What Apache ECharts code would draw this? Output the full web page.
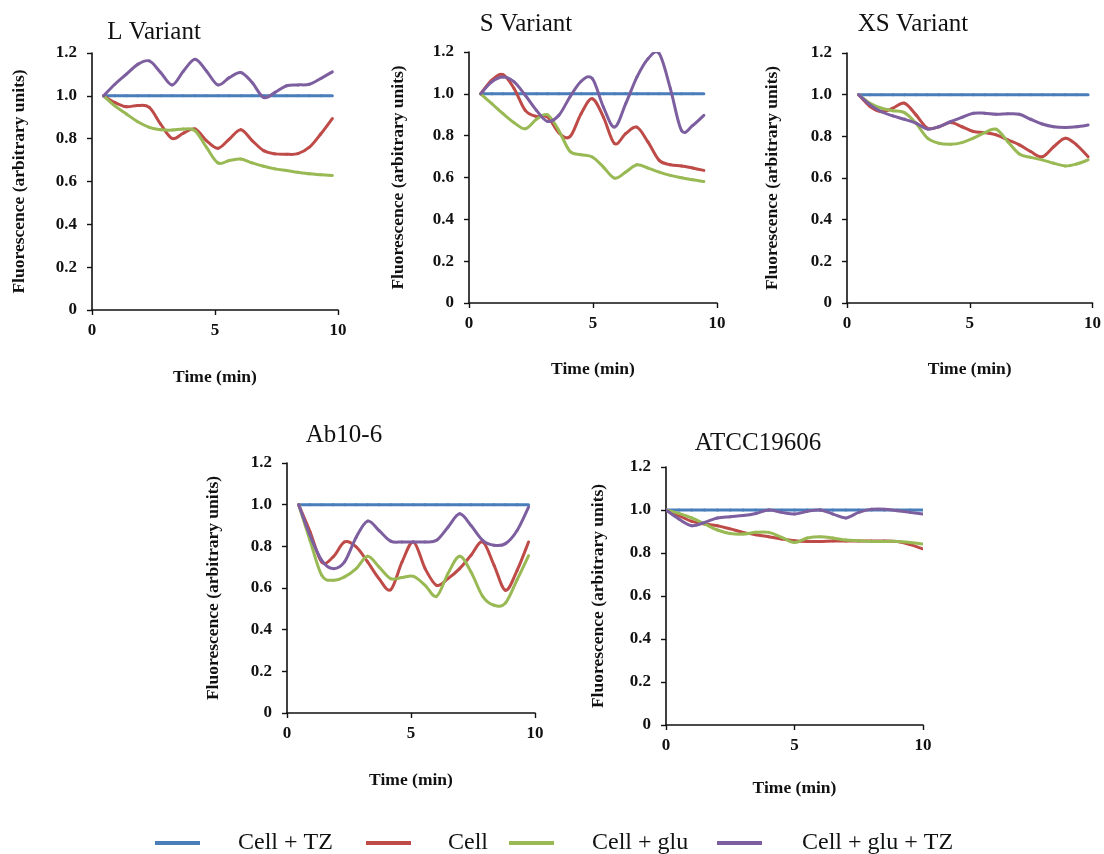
<!DOCTYPE html>
<html>
<head>
<meta charset="utf-8">
<script src="https://cdn.jsdelivr.net/npm/echarts@6/dist/echarts.min.js"></script>
<style>
  html, body { margin: 0; padding: 0; background: #fff; }
  #chart { width: 1104px; height: 854px; }
</style>
</head>
<body>
<div id="chart"></div>
<script>
// Series names (legend)
const seriesNames = ['Cell + TZ', 'Cell', 'Cell + glu', 'Cell + glu + TZ'];

// L Variant
const lTime  = [0.47, 0.93, 1.40, 1.86, 2.33, 2.79, 3.26, 3.72, 4.19, 4.65, 5.12, 5.58, 6.05, 6.51, 6.98, 7.44, 7.91, 8.37, 8.84, 9.30, 9.77];
const lTz    = [1, 1, 1, 1, 1, 1, 1, 1, 1, 1, 1, 1, 1, 1, 1, 1, 1, 1, 1, 1, 1];
const lCell  = [1.0, 0.969, 0.949, 0.955, 0.946, 0.868, 0.801, 0.826, 0.845, 0.791, 0.755, 0.798, 0.842, 0.791, 0.744, 0.729, 0.727, 0.730, 0.760, 0.822, 0.894];
const lGlu   = [1.0, 0.953, 0.915, 0.879, 0.853, 0.842, 0.840, 0.845, 0.837, 0.760, 0.687, 0.698, 0.705, 0.687, 0.671, 0.659, 0.651, 0.643, 0.636, 0.632, 0.628];
const lGluTz = [1.0, 1.054, 1.101, 1.147, 1.163, 1.109, 1.051, 1.116, 1.171, 1.116, 1.051, 1.085, 1.109, 1.062, 0.992, 1.016, 1.047, 1.051, 1.054, 1.081, 1.112];

// S Variant
const sTime  = [0.47, 0.92, 1.37, 1.82, 2.27, 2.72, 3.17, 3.62, 4.07, 4.52, 4.97, 5.42, 5.87, 6.32, 6.77, 7.22, 7.67, 8.12, 8.57, 9.02, 9.47];
const sTz    = [1, 1, 1, 1, 1, 1, 1, 1, 1, 1, 1, 1, 1, 1, 1, 1, 1, 1, 1, 1, 1];
const sCell  = [1.0, 1.065, 1.092, 1.025, 0.921, 0.892, 0.889, 0.814, 0.795, 0.905, 0.977, 0.889, 0.762, 0.810, 0.841, 0.769, 0.682, 0.661, 0.655, 0.645, 0.634];
const sGlu   = [1.0, 0.953, 0.905, 0.862, 0.833, 0.878, 0.900, 0.825, 0.725, 0.709, 0.698, 0.650, 0.597, 0.626, 0.661, 0.645, 0.626, 0.610, 0.599, 0.589, 0.581];
const sGluTz = [1.0, 1.057, 1.080, 1.057, 0.993, 0.921, 0.868, 0.897, 0.985, 1.060, 1.073, 0.937, 0.841, 0.953, 1.080, 1.168, 1.192, 1.025, 0.825, 0.849, 0.897];

// XS Variant
const xsTime  = [0.47, 0.94, 1.41, 1.87, 2.34, 2.81, 3.28, 3.74, 4.21, 4.68, 5.15, 5.61, 6.08, 6.55, 7.02, 7.48, 7.95, 8.42, 8.89, 9.35, 9.82];
const xsTz    = [1, 1, 1, 1, 1, 1, 1, 1, 1, 1, 1, 1, 1, 1, 1, 1, 1, 1, 1, 1, 1];
const xsCell  = [1.0, 0.943, 0.918, 0.935, 0.959, 0.903, 0.839, 0.846, 0.866, 0.846, 0.823, 0.818, 0.807, 0.783, 0.759, 0.727, 0.702, 0.750, 0.791, 0.759, 0.702];
const xsGlu   = [1.0, 0.959, 0.935, 0.923, 0.914, 0.863, 0.791, 0.767, 0.762, 0.770, 0.791, 0.818, 0.834, 0.774, 0.715, 0.699, 0.687, 0.671, 0.658, 0.667, 0.687];
const xsGluTz = [1.0, 0.951, 0.918, 0.898, 0.882, 0.863, 0.835, 0.846, 0.870, 0.891, 0.911, 0.911, 0.906, 0.908, 0.906, 0.882, 0.859, 0.846, 0.843, 0.846, 0.854];

// Ab10-6
const abTime  = [0.47, 0.93, 1.40, 1.86, 2.32, 2.79, 3.25, 3.71, 4.18, 4.64, 5.10, 5.57, 6.03, 6.49, 6.96, 7.42, 7.89, 8.35, 8.81, 9.28, 9.74];
const abTz    = [1, 1, 1, 1, 1, 1, 1, 1, 1, 1, 1, 1, 1, 1, 1, 1, 1, 1, 1, 1, 1];
const abCell  = [1.0, 0.870, 0.725, 0.749, 0.821, 0.797, 0.725, 0.645, 0.592, 0.725, 0.821, 0.693, 0.613, 0.645, 0.693, 0.757, 0.821, 0.709, 0.589, 0.685, 0.821];
const abGlu   = [1.0, 0.828, 0.661, 0.637, 0.653, 0.693, 0.752, 0.701, 0.645, 0.650, 0.656, 0.613, 0.560, 0.669, 0.752, 0.677, 0.560, 0.517, 0.528, 0.640, 0.755];
const abGluTz = [1.0, 0.852, 0.733, 0.693, 0.725, 0.844, 0.921, 0.876, 0.825, 0.821, 0.821, 0.821, 0.829, 0.892, 0.956, 0.900, 0.829, 0.805, 0.813, 0.876, 0.988];

// ATCC19606
const atTime  = [0, 0.5, 1, 1.5, 2, 2.5, 3, 3.5, 4, 4.5, 5, 5.5, 6, 6.5, 7, 7.5, 8, 8.5, 9, 9.5, 10];
const atTz    = [1, 1, 1, 1, 1, 1, 1, 1, 1, 1, 1, 1, 1, 1, 1, 1, 1, 1, 1, 1, 1];
const atCell  = [1.0, 0.974, 0.947, 0.935, 0.927, 0.912, 0.896, 0.885, 0.876, 0.865, 0.857, 0.854, 0.854, 0.856, 0.856, 0.856, 0.856, 0.856, 0.853, 0.839, 0.819];
const atGlu   = [1.0, 0.984, 0.963, 0.935, 0.907, 0.891, 0.888, 0.896, 0.896, 0.873, 0.849, 0.870, 0.876, 0.870, 0.860, 0.857, 0.854, 0.854, 0.854, 0.849, 0.842];
const atGluTz = [1.0, 0.958, 0.927, 0.942, 0.963, 0.969, 0.974, 0.984, 1.000, 0.989, 0.981, 0.994, 1.000, 0.981, 0.963, 0.989, 1.003, 1.004, 0.997, 0.989, 0.981];

// Axis ticks
const xTicks = { min: 0, max: 10, interval: 5 };
const yTicks = { min: 0, max: 1.2, interval: 0.2 };

const colors = ['#4a7ebb', '#be4b48', '#98b954', '#7d5fa0'];
const serif = '"Liberation Serif", "Times New Roman", serif';

const panels = [
  { title: 'L Variant', time: lTime, values: [lTz, lCell, lGlu, lGluTz],
    grid: { left: 92, top: 53, width: 246, height: 257 }, tx: 154, ty: 32, xGap: 58, yGap: 64 },
  { title: 'S Variant', time: sTime, values: [sTz, sCell, sGlu, sGluTz],
    grid: { left: 469, top: 52, width: 248, height: 251 }, tx: 526, ty: 24, xGap: 57, yGap: 62 },
  { title: 'XS Variant', time: xsTime, values: [xsTz, xsCell, xsGlu, xsGluTz],
    grid: { left: 847, top: 53, width: 246, height: 250 }, tx: 913, ty: 24, xGap: 57, yGap: 66 },
  { title: 'Ab10-6', time: abTime, values: [abTz, abCell, abGlu, abGluTz],
    grid: { left: 287, top: 463, width: 248, height: 250 }, tx: 344, ty: 435, xGap: 58, yGap: 65 },
  { title: 'ATCC19606', time: atTime, values: [atTz, atCell, atGlu, atGluTz],
    grid: { left: 666, top: 467, width: 257, height: 258 }, tx: 758, ty: 443, xGap: 54, yGap: 59 }
];

const axisLine = { show: true, lineStyle: { color: '#111', width: 1.6 } };
const axisTick = { show: true, length: 5, lineStyle: { color: '#111', width: 1.4 } };
const labelFont = { fontFamily: serif, fontWeight: 'bold', fontSize: 17, color: '#111' };
const nameFont = { fontFamily: serif, fontWeight: 'bold', fontSize: 17.5, color: '#111' };

// Smooth curve through the data: each item draws the cubic segment to the
// next point, with Catmull-Rom tangents taken from its neighbours.
function renderSmoothSegment(params, api) {
  const i = params.dataIndexInside;
  const n = params.dataInsideLength;
  if (i >= n - 1) return null;
  const pt = j => api.coord([api.value(0, j), api.value(1, j)]);
  const p1 = pt(i), p2 = pt(i + 1);
  const p0 = i > 0 ? pt(i - 1) : p1;
  const p3 = i + 2 < n ? pt(i + 2) : p2;
  return {
    type: 'bezierCurve',
    shape: {
      x1: p1[0], y1: p1[1], x2: p2[0], y2: p2[1],
      cpx1: p1[0] + (p2[0] - p0[0]) / 6, cpy1: p1[1] + (p2[1] - p0[1]) / 6,
      cpx2: p2[0] - (p3[0] - p1[0]) / 6, cpy2: p2[1] - (p3[1] - p1[1]) / 6
    },
    style: { stroke: api.visual('color'), lineWidth: 3, fill: null, lineCap: 'round' },
    silent: true
  };
}

const grid = [], xAxis = [], yAxis = [], series = [], graphic = [];

panels.forEach((p, i) => {
  grid.push(Object.assign({ containLabel: false }, p.grid));
  xAxis.push({
    type: 'value', gridIndex: i, min: xTicks.min, max: xTicks.max, interval: xTicks.interval,
    axisLine, axisTick, splitLine: { show: false },
    axisLabel: Object.assign({ margin: 12 }, labelFont),
    name: 'Time (min)', nameLocation: 'middle', nameGap: p.xGap, nameTextStyle: nameFont
  });
  yAxis.push({
    type: 'value', gridIndex: i, min: yTicks.min, max: yTicks.max, interval: yTicks.interval,
    axisLine, axisTick, splitLine: { show: false },
    axisLabel: Object.assign({ margin: 15, formatter: v => (v === 0 ? '0' : v.toFixed(1)) }, labelFont),
    name: 'Fluorescence (arbitrary units)', nameLocation: 'middle', nameGap: p.yGap,
    nameRotate: 90, nameTextStyle: nameFont
  });
  p.values.forEach((vals, k) => {
    series.push({
      name: seriesNames[k], type: 'custom', coordinateSystem: 'cartesian2d',
      xAxisIndex: i, yAxisIndex: i, clip: true,
      data: p.time.map((t, j) => [t, vals[j]]),
      encode: { x: 0, y: 1 },
      itemStyle: { color: colors[k] },
      renderItem: renderSmoothSegment,
      z: k === 0 ? 2 : 3
    });
  });
  graphic.push({
    type: 'text', x: p.tx, y: p.ty,
    style: { text: p.title, font: '25px ' + serif, fill: '#111',
             textAlign: 'center', textVerticalAlign: 'middle' }
  });
});

// One legend block per series, laid out along the bottom
const legendLeft = [155, 366, 509, 717];
const legend = seriesNames.map((n, k) => ({
  data: [n], left: legendLeft[k], top: 831, padding: 0,
  icon: 'rect', itemWidth: 45, itemHeight: 4, selectedMode: false,
  textStyle: { fontFamily: serif, fontSize: 24, color: '#111', lineHeight: 24,
               padding: [0, 0, 0, [33, 32, 33, 35][k]] }
}));

const chart = echarts.init(document.getElementById('chart'), null, { renderer: 'canvas' });
chart.setOption({
  animation: false,
  backgroundColor: '#fff',
  grid, xAxis, yAxis, series, legend, graphic
});
</script>
</body>
</html>
